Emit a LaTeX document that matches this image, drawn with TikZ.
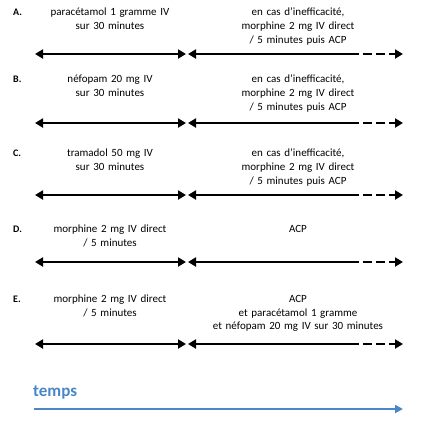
\documentclass[tikz,border=0pt]{standalone}
\usepackage{fontspec}
\setmainfont{Carlito}
\usetikzlibrary{arrows.meta}
\definecolor{tblue}{HTML}{4A86C8}
\tikzset{
  lbl/.style={font=\fontsize{10}{12}\selectfont\bfseries, anchor=north west, inner sep=0pt},
  txt/.style={font=\fontsize{11}{13.8}\selectfont, text width=190pt, align=center, anchor=north, inner sep=0pt},
  bar/.style={line width=2.2pt, draw=black},
  tip/.style={-{Triangle[length=8pt,width=9pt]}},
  dsh/.style={bar, dash pattern=on 9pt off 4pt},
}
\begin{document}
\begin{tikzpicture}[x=1pt,y=-1pt]
\useasboundingbox (0,0) rectangle (425,429);
% A
\node[lbl] (alab) at (13,9) {A.};
\node[txt] (aleft) at (110,8) {paracétamol 1 gramme IV\par sur 30 minutes};
\node[txt] (aright) at (298,8) {en cas d’inefficacité,\par morphine 2 mg IV direct\par / 5 minutes puis ACP};
% B
\node[lbl] (blab) at (13,76) {B.};
\node[txt] (bleft) at (110,75) {néfopam 20 mg IV\par sur 30 minutes};
\node[txt] (bright) at (298,75) {en cas d’inefficacité,\par morphine 2 mg IV direct\par / 5 minutes puis ACP};
% C
\node[lbl] (clab) at (13,150) {C.};
\node[txt] (cleft) at (110,149) {tramadol 50 mg IV\par sur 30 minutes};
\node[txt] (cright) at (298,149) {en cas d’inefficacité,\par morphine 2 mg IV direct\par / 5 minutes puis ACP};
% D
\node[lbl] (dlab) at (13,226) {D.};
\node[txt] (dleft) at (110,225) {morphine 2 mg IV direct\par / 5 minutes};
\node[txt] (dright) at (298,225) {ACP};
% E
\node[lbl] (elab) at (13,296) {E.};
\node[txt] (eleft) at (110,295) {morphine 2 mg IV direct\par / 5 minutes};
\node[txt] (eright) at (298,295) {ACP\par et paracétamol 1 gramme\par et néfopam 20 mg IV sur 30 minutes};
\foreach \r/\ya in {a/54,b/123,c/195,d/262,e/344}{
  \coordinate (\r s) at (35,\ya);
  \coordinate (\r m1) at (186,\ya);
  \coordinate (\r m2) at (188,\ya);
  \coordinate (\r d) at (350,\ya);
  \coordinate (\r e) at (403,\ya);
  \draw[bar, {Triangle[length=8pt,width=9pt]}-{Triangle[length=8pt,width=9pt]}] (\r s) -- (\r m1);
  \draw[bar, {Triangle[length=8pt,width=9pt]}-] (\r m2) -- (\r d);
  \draw[dsh, tip] (\r d) -- (\r e);
}
\node[font=\fontsize{17}{19}\selectfont\bfseries, text=tblue, anchor=west, inner sep=0pt] (temps) at (33,392) {temps};
\coordinate (t0) at (34,409);
\coordinate (t1) at (403,409);
\draw[tblue, line width=2pt, -{Triangle[length=8pt,width=8pt]}] (t0) -- (t1);
\end{tikzpicture}
\end{document}
